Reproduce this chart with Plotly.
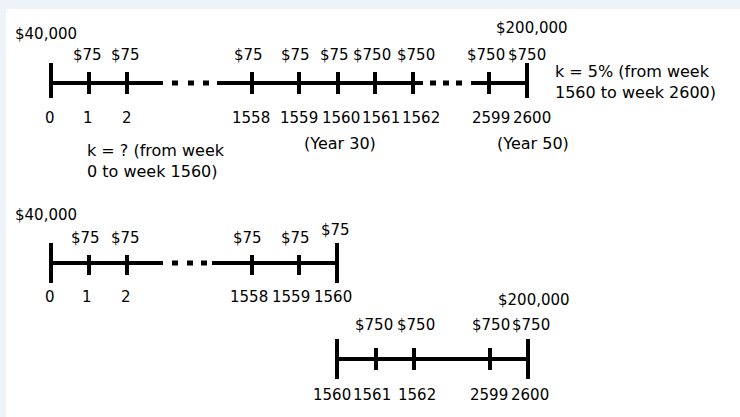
import plotly.graph_objects as go

# ---------------- data ----------------
weeks_top = ["0", "1", "2", "1558", "1559", "1560", "1561", "1562", "2599", "2600"]
pay_top = ["", "$75", "$75", "$75", "$75", "$75", "$750", "$750", "$750", "$750"]
weeks_mid = ["0", "1", "2", "1558", "1559", "1560"]
pay_mid = ["", "$75", "$75", "$75", "$75", "$75"]
weeks_bot = ["1560", "1561", "1562", "2599", "2600"]
pay_bot = ["", "$750", "$750", "$750", "$750"]
initial_amount = "$40,000"
final_amount = "$200,000"
rate_unknown = "k = ? (from week<br>0 to week 1560)"
rate_known = "k = 5% (from week<br>1560 to week 2600)"
year_notes = ["(Year 30)", "(Year 50)"]

# ---------------- layout (pixel positions) ----------------
TICK_TOP = [51, 89, 127, 252, 299, 338, 375, 413, 489, 527]
WLAB_TOP = [50, 88, 127, 251, 299, 341, 381, 421, 491, 532]
PLAB_TOP = [0, 87, 125, 248, 295, 334, 372, 416, 486, 527]
TICK_MID = [51, 89, 127, 252, 299, 337]
WLAB_MID = [50, 87, 126, 249, 291, 333]
PLAB_MID = [0, 85, 125, 247, 295, 335]
TICK_BOT = [337, 376, 414, 490, 528]
WLAB_BOT = [332, 372, 417, 489, 530]
PLAB_BOT = [0, 374, 416, 491, 531]
FONT = "DejaVu Sans"
FS = 15
FS_TXT = 16
BAND = "#EEF3FA"

fig = go.Figure()
shapes = []
ann = []


def seg(x0, y0, x1, y1, w=4):
    shapes.append(dict(type="line", x0=x0, y0=y0, x1=x1, y1=y1,
                       line=dict(color="black", width=w)))


def dots(xs, y):
    for x in xs:
        shapes.append(dict(type="rect", x0=x - 3, x1=x + 3, y0=y - 2.5, y1=y + 2.5,
                           fillcolor="black", line=dict(width=0)))


def txt(x, y, s, anchor="center", size=FS):
    ann.append(dict(x=x, y=y, text=s, showarrow=False, xanchor=anchor,
                    yanchor="middle", align="left",
                    font=dict(family=FONT, size=size, color="black")))


# background bands (top and left)
shapes.append(dict(type="rect", x0=0, x1=740, y0=0, y1=9, fillcolor=BAND,
                   line=dict(width=0), layer="below"))
shapes.append(dict(type="rect", x0=0, x1=6, y0=0, y1=417, fillcolor=BAND,
                   line=dict(width=0), layer="below"))

# ---- top timeline ----
yT = 83
seg(51, yT, 163, yT)
dots([175, 191, 206], yT)
seg(217, yT, 423, yT)
dots([433, 446, 459], yT)
seg(471, yT, 527, yT)
for i, x in enumerate(TICK_TOP):
    if i in (0, len(TICK_TOP) - 1):
        seg(x, 63, x, 98)
    else:
        seg(x, 72, x, 94)
    txt(WLAB_TOP[i], 118, weeks_top[i])
    if pay_top[i]:
        txt(PLAB_TOP[i], 55, pay_top[i])
txt(46, 34, initial_amount)
txt(532, 28, final_amount)
txt(340, 143, year_notes[0], size=FS_TXT)
txt(533, 143, year_notes[1], size=FS_TXT)
txt(85, 161, rate_unknown, anchor="left", size=FS_TXT)
txt(553, 82, rate_known, anchor="left", size=FS_TXT)

# ---- middle timeline ----
yM = 263
seg(51, yM, 163, yM)
dots([175, 190, 204], yM)
seg(212, yM, 337, yM)
for i, x in enumerate(TICK_MID):
    if i in (0, len(TICK_MID) - 1):
        seg(x, 243, x, 283)
    else:
        seg(x, 255, x, 275)
    txt(WLAB_MID[i], 297, weeks_mid[i])
    if pay_mid[i]:
        txt(PLAB_MID[i], 230 if i == len(TICK_MID) - 1 else 238, pay_mid[i])
txt(46, 215, initial_amount)

# ---- bottom timeline ----
yB = 359
seg(337, yB, 528, yB)
for i, x in enumerate(TICK_BOT):
    if i in (0, len(TICK_BOT) - 1):
        seg(x, 339, x, 379)
    else:
        seg(x, 348, x, 370)
    txt(WLAB_BOT[i], 395, weeks_bot[i])
    if pay_bot[i]:
        txt(PLAB_BOT[i], 325, pay_bot[i])
txt(534, 300, final_amount)

fig.add_trace(go.Scatter(x=[], y=[], mode="markers", showlegend=False))

fig.update_layout(
    width=740, height=417,
    margin=dict(l=0, r=0, t=0, b=0),
    paper_bgcolor="white",
    plot_bgcolor="white",
    shapes=shapes,
    annotations=ann,
    showlegend=False,
    xaxis=dict(range=[0, 740], visible=False, fixedrange=True),
    yaxis=dict(range=[417, 0], visible=False, fixedrange=True),
)

fig.write_html(
    "out.html",
    config={"displayModeBar": False},
    post_script=(
        "document.body.style.margin='0';"
        "document.body.style.overflow='hidden';"
        "document.body.style.background='white';"
        "document.documentElement.style.background='white';"
    ),
)
